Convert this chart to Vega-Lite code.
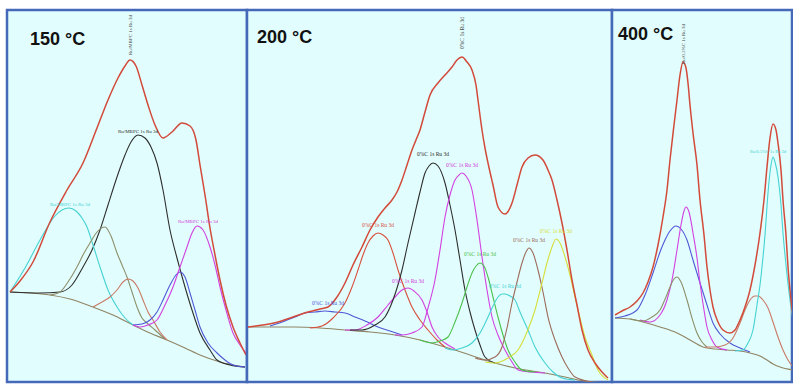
{
  "$schema": "https://vega.github.io/schema/vega-lite/v6.json",
  "background": "white",
  "padding": {"left": 5, "top": 8, "right": 0, "bottom": 0},
  "spacing": 0,
  "bounds": "flush",
  "config": {
    "view": {"fill": "#e2fdfd", "stroke": "#4469b8", "strokeWidth": 2.5},
    "concat": {"spacing": 0}
  },
  "datasets": {
    "p1": [
      {"s":"env","x":3,"y":90},{"s":"env","x":13,"y":101},{"s":"env","x":26,"y":120},{"s":"env","x":43,"y":160},{"s":"env","x":60,"y":192},{"s":"env","x":76,"y":219},{"s":"env","x":90,"y":254},{"s":"env","x":101,"y":282},{"s":"env","x":111,"y":304},{"s":"env","x":118,"y":316},{"s":"env","x":123,"y":322},{"s":"env","x":129,"y":316},{"s":"env","x":135,"y":297},{"s":"env","x":141,"y":277},{"s":"env","x":148,"y":257},{"s":"env","x":156,"y":244},{"s":"env","x":165,"y":250},{"s":"env","x":175,"y":259},{"s":"env","x":183,"y":256},{"s":"env","x":189,"y":242},{"s":"env","x":193,"y":217},{"s":"env","x":198,"y":187},{"s":"env","x":203,"y":154},{"s":"env","x":208,"y":127},{"s":"env","x":213,"y":102},{"s":"env","x":219,"y":77},{"s":"env","x":226,"y":55},{"s":"env","x":233,"y":39},{"s":"env","x":239,"y":27},
      {"s":"base","x":3,"y":90},{"s":"base","x":23,"y":89},{"s":"base","x":43,"y":87},{"s":"base","x":63,"y":83},{"s":"base","x":86,"y":75},{"s":"base","x":106,"y":67},{"s":"base","x":126,"y":57},{"s":"base","x":143,"y":49},{"s":"base","x":160,"y":42},{"s":"base","x":178,"y":34},{"s":"base","x":193,"y":27},{"s":"base","x":213,"y":20},{"s":"base","x":238,"y":15},
      {"s":"black","x":3,"y":90},{"s":"black","x":33,"y":89},{"s":"black","x":53,"y":90},{"s":"black","x":65,"y":97},{"s":"black","x":76,"y":115},{"s":"black","x":85,"y":132},{"s":"black","x":93,"y":152},{"s":"black","x":101,"y":177},{"s":"black","x":110,"y":205},{"s":"black","x":118,"y":227},{"s":"black","x":124,"y":240},{"s":"black","x":131,"y":247},{"s":"black","x":138,"y":244},{"s":"black","x":144,"y":235},{"s":"black","x":150,"y":219},{"s":"black","x":156,"y":192},{"s":"black","x":163,"y":152},{"s":"black","x":170,"y":124},{"s":"black","x":176,"y":102},{"s":"black","x":185,"y":72},{"s":"black","x":193,"y":49},{"s":"black","x":203,"y":32},{"s":"black","x":210,"y":22},{"s":"black","x":223,"y":17},{"s":"black","x":238,"y":15},
      {"s":"cyan","x":3,"y":90},{"s":"cyan","x":18,"y":114},{"s":"cyan","x":33,"y":142},{"s":"cyan","x":48,"y":166},{"s":"cyan","x":55,"y":172},{"s":"cyan","x":62,"y":174},{"s":"cyan","x":69,"y":171},{"s":"cyan","x":75,"y":164},{"s":"cyan","x":80,"y":155},{"s":"cyan","x":86,"y":137},{"s":"cyan","x":93,"y":115},{"s":"cyan","x":101,"y":92},{"s":"cyan","x":110,"y":75},{"s":"cyan","x":118,"y":64},{"s":"cyan","x":126,"y":57},
      {"s":"olive","x":43,"y":87},{"s":"olive","x":53,"y":90},{"s":"olive","x":61,"y":100},{"s":"olive","x":70,"y":115},{"s":"olive","x":77,"y":129},{"s":"olive","x":83,"y":139},{"s":"olive","x":90,"y":150},{"s":"olive","x":98,"y":155},{"s":"olive","x":104,"y":146},{"s":"olive","x":110,"y":129},{"s":"olive","x":115,"y":117},{"s":"olive","x":120,"y":105},{"s":"olive","x":125,"y":90},{"s":"olive","x":130,"y":75},{"s":"olive","x":135,"y":64},{"s":"olive","x":140,"y":59},{"s":"olive","x":148,"y":52},{"s":"olive","x":158,"y":43},
      {"s":"pink","x":86,"y":75},{"s":"pink","x":95,"y":80},{"s":"pink","x":103,"y":85},{"s":"pink","x":110,"y":92},{"s":"pink","x":116,"y":100},{"s":"pink","x":121,"y":103},{"s":"pink","x":126,"y":101},{"s":"pink","x":131,"y":94},{"s":"pink","x":136,"y":82},{"s":"pink","x":141,"y":70},{"s":"pink","x":146,"y":62},{"s":"pink","x":153,"y":50},{"s":"pink","x":160,"y":42},
      {"s":"blue","x":126,"y":57},{"s":"blue","x":135,"y":58},{"s":"blue","x":143,"y":62},{"s":"blue","x":150,"y":70},{"s":"blue","x":156,"y":82},{"s":"blue","x":163,"y":97},{"s":"blue","x":169,"y":107},{"s":"blue","x":173,"y":110},{"s":"blue","x":178,"y":105},{"s":"blue","x":183,"y":89},{"s":"blue","x":188,"y":72},{"s":"blue","x":193,"y":55},{"s":"blue","x":201,"y":39},{"s":"blue","x":210,"y":29},{"s":"blue","x":218,"y":22},{"s":"blue","x":226,"y":17},{"s":"blue","x":238,"y":15},
      {"s":"magenta","x":126,"y":57},{"s":"magenta","x":133,"y":55},{"s":"magenta","x":141,"y":57},{"s":"magenta","x":150,"y":62},{"s":"magenta","x":158,"y":77},{"s":"magenta","x":166,"y":95},{"s":"magenta","x":173,"y":115},{"s":"magenta","x":180,"y":135},{"s":"magenta","x":185,"y":149},{"s":"magenta","x":190,"y":156},{"s":"magenta","x":196,"y":152},{"s":"magenta","x":203,"y":135},{"s":"magenta","x":208,"y":117},{"s":"magenta","x":213,"y":95},{"s":"magenta","x":219,"y":72},{"s":"magenta","x":226,"y":49},{"s":"magenta","x":233,"y":37},{"s":"magenta","x":239,"y":29}
    ],
    "p1t": [
      {"k":"c","x":131,"y":251,"t":"Ru/MBPC 1s Ru 3d","s":"black"},
      {"k":"c","x":63,"y":178,"t":"Ru/MBPC 1s Ru 3d","s":"cyan"},
      {"k":"c","x":191,"y":161,"t":"Ru/MBPC 1s Ru 3d","s":"magenta"},
      {"k":"v","x":123,"y":347,"t":"Ru/MBPC 1s Ru 3d","s":"black"},
      {"k":"h","x":23,"y":337,"t":"150 °C","s":"title"}
    ],
    "p2": [
      {"s":"env","x":1,"y":55},{"s":"env","x":16,"y":57},{"s":"env","x":31,"y":60},{"s":"env","x":46,"y":65},{"s":"env","x":61,"y":70},{"s":"env","x":73,"y":73},{"s":"env","x":81,"y":75},{"s":"env","x":90,"y":85},{"s":"env","x":98,"y":99},{"s":"env","x":106,"y":117},{"s":"env","x":115,"y":135},{"s":"env","x":123,"y":152},{"s":"env","x":131,"y":165},{"s":"env","x":138,"y":174},{"s":"env","x":145,"y":182},{"s":"env","x":150,"y":190},{"s":"env","x":155,"y":202},{"s":"env","x":160,"y":217},{"s":"env","x":165,"y":232},{"s":"env","x":169,"y":242},{"s":"env","x":173,"y":252},{"s":"env","x":178,"y":270},{"s":"env","x":183,"y":287},{"s":"env","x":191,"y":299},{"s":"env","x":198,"y":307},{"s":"env","x":205,"y":315},{"s":"env","x":210,"y":322},{"s":"env","x":215,"y":325},{"s":"env","x":220,"y":320},{"s":"env","x":225,"y":312},{"s":"env","x":229,"y":297},{"s":"env","x":231,"y":282},{"s":"env","x":235,"y":252},{"s":"env","x":238,"y":234},{"s":"env","x":241,"y":219},{"s":"env","x":246,"y":197},{"s":"env","x":251,"y":175},{"s":"env","x":258,"y":168},{"s":"env","x":265,"y":179},{"s":"env","x":270,"y":197},{"s":"env","x":275,"y":215},{"s":"env","x":281,"y":224},{"s":"env","x":288,"y":227},{"s":"env","x":296,"y":222},{"s":"env","x":301,"y":212},{"s":"env","x":305,"y":202},{"s":"env","x":310,"y":182},{"s":"env","x":315,"y":159},{"s":"env","x":320,"y":132},{"s":"env","x":325,"y":102},{"s":"env","x":330,"y":77},{"s":"env","x":335,"y":52},{"s":"env","x":341,"y":32},{"s":"env","x":348,"y":19},{"s":"env","x":355,"y":10},{"s":"env","x":361,"y":4},
      {"s":"base","x":1,"y":55},{"s":"base","x":48,"y":55},{"s":"base","x":73,"y":54},{"s":"base","x":98,"y":52},{"s":"base","x":123,"y":50},{"s":"base","x":148,"y":47},{"s":"base","x":173,"y":42},{"s":"base","x":198,"y":35},{"s":"base","x":223,"y":27},{"s":"base","x":248,"y":19},{"s":"base","x":273,"y":13},{"s":"base","x":298,"y":9},{"s":"base","x":318,"y":5},{"s":"base","x":331,"y":2},{"s":"base","x":361,"y":-1},
      {"s":"blue","x":23,"y":56},{"s":"blue","x":38,"y":61},{"s":"blue","x":48,"y":65},{"s":"blue","x":58,"y":69},{"s":"blue","x":68,"y":70},{"s":"blue","x":78,"y":71},{"s":"blue","x":88,"y":70},{"s":"blue","x":98,"y":69},{"s":"blue","x":108,"y":65},{"s":"blue","x":118,"y":61},{"s":"blue","x":131,"y":55},{"s":"blue","x":143,"y":51},{"s":"blue","x":155,"y":47},
      {"s":"red","x":63,"y":54},{"s":"red","x":75,"y":56},{"s":"red","x":86,"y":64},{"s":"red","x":98,"y":79},{"s":"red","x":105,"y":95},{"s":"red","x":111,"y":112},{"s":"red","x":116,"y":127},{"s":"red","x":121,"y":139},{"s":"red","x":126,"y":146},{"s":"red","x":131,"y":149},{"s":"red","x":136,"y":147},{"s":"red","x":141,"y":142},{"s":"red","x":146,"y":129},{"s":"red","x":151,"y":112},{"s":"red","x":158,"y":92},{"s":"red","x":165,"y":75},{"s":"red","x":173,"y":62},{"s":"red","x":181,"y":52},{"s":"red","x":190,"y":42},{"s":"red","x":198,"y":35},
      {"s":"magenta","x":98,"y":52},{"s":"magenta","x":108,"y":52},{"s":"magenta","x":120,"y":57},{"s":"magenta","x":131,"y":65},{"s":"magenta","x":141,"y":77},{"s":"magenta","x":148,"y":85},{"s":"magenta","x":155,"y":92},{"s":"magenta","x":161,"y":94},{"s":"magenta","x":167,"y":91},{"s":"magenta","x":175,"y":82},{"s":"magenta","x":180,"y":70},{"s":"magenta","x":185,"y":55},{"s":"magenta","x":191,"y":45},{"s":"magenta","x":198,"y":39},{"s":"magenta","x":208,"y":33},
      {"s":"black","x":103,"y":52},{"s":"black","x":115,"y":52},{"s":"black","x":128,"y":57},{"s":"black","x":138,"y":65},{"s":"black","x":146,"y":82},{"s":"black","x":155,"y":112},{"s":"black","x":161,"y":139},{"s":"black","x":168,"y":169},{"s":"black","x":173,"y":190},{"s":"black","x":178,"y":209},{"s":"black","x":182,"y":216},{"s":"black","x":186,"y":219},{"s":"black","x":191,"y":216},{"s":"black","x":198,"y":199},{"s":"black","x":203,"y":177},{"s":"black","x":208,"y":152},{"s":"black","x":213,"y":122},{"s":"black","x":218,"y":92},{"s":"black","x":223,"y":70},{"s":"black","x":228,"y":52},{"s":"black","x":233,"y":37},{"s":"black","x":238,"y":25},{"s":"black","x":248,"y":19},
      {"s":"magenta2","x":148,"y":47},{"s":"magenta2","x":155,"y":47},{"s":"magenta2","x":165,"y":49},{"s":"magenta2","x":175,"y":55},{"s":"magenta2","x":181,"y":74},{"s":"magenta2","x":188,"y":102},{"s":"magenta2","x":193,"y":132},{"s":"magenta2","x":198,"y":165},{"s":"magenta2","x":203,"y":187},{"s":"magenta2","x":208,"y":202},{"s":"magenta2","x":212,"y":207},{"s":"magenta2","x":215,"y":209},{"s":"magenta2","x":219,"y":206},{"s":"magenta2","x":225,"y":192},{"s":"magenta2","x":230,"y":162},{"s":"magenta2","x":235,"y":125},{"s":"magenta2","x":240,"y":92},{"s":"magenta2","x":245,"y":65},{"s":"magenta2","x":251,"y":47},{"s":"magenta2","x":258,"y":32},{"s":"magenta2","x":265,"y":20},{"s":"magenta2","x":271,"y":12},{"s":"magenta2","x":283,"y":10},{"s":"magenta2","x":298,"y":9},
      {"s":"green","x":173,"y":42},{"s":"green","x":185,"y":39},{"s":"green","x":193,"y":41},{"s":"green","x":201,"y":45},{"s":"green","x":208,"y":60},{"s":"green","x":215,"y":79},{"s":"green","x":220,"y":95},{"s":"green","x":225,"y":109},{"s":"green","x":229,"y":116},{"s":"green","x":233,"y":119},{"s":"green","x":237,"y":116},{"s":"green","x":241,"y":105},{"s":"green","x":246,"y":85},{"s":"green","x":251,"y":65},{"s":"green","x":256,"y":47},{"s":"green","x":261,"y":32},{"s":"green","x":268,"y":20},{"s":"green","x":275,"y":12},{"s":"green","x":288,"y":10},
      {"s":"cyan","x":198,"y":34},{"s":"cyan","x":205,"y":32},{"s":"cyan","x":215,"y":34},{"s":"cyan","x":225,"y":39},{"s":"cyan","x":233,"y":49},{"s":"cyan","x":241,"y":65},{"s":"cyan","x":246,"y":76},{"s":"cyan","x":251,"y":85},{"s":"cyan","x":255,"y":88},{"s":"cyan","x":258,"y":88},{"s":"cyan","x":263,"y":86},{"s":"cyan","x":268,"y":82},{"s":"cyan","x":273,"y":70},{"s":"cyan","x":281,"y":52},{"s":"cyan","x":288,"y":35},{"s":"cyan","x":298,"y":19},{"s":"cyan","x":306,"y":10},{"s":"cyan","x":315,"y":4},{"s":"cyan","x":328,"y":2},
      {"s":"brown","x":228,"y":24},{"s":"brown","x":238,"y":22},{"s":"brown","x":248,"y":25},{"s":"brown","x":255,"y":35},{"s":"brown","x":260,"y":54},{"s":"brown","x":265,"y":79},{"s":"brown","x":270,"y":100},{"s":"brown","x":275,"y":119},{"s":"brown","x":279,"y":130},{"s":"brown","x":282,"y":134},{"s":"brown","x":286,"y":129},{"s":"brown","x":291,"y":112},{"s":"brown","x":296,"y":90},{"s":"brown","x":301,"y":65},{"s":"brown","x":308,"y":42},{"s":"brown","x":315,"y":25},{"s":"brown","x":321,"y":14},{"s":"brown","x":328,"y":5},{"s":"brown","x":345,"y":0},
      {"s":"yellow","x":238,"y":20},{"s":"yellow","x":248,"y":19},{"s":"yellow","x":261,"y":24},{"s":"yellow","x":271,"y":32},{"s":"yellow","x":280,"y":50},{"s":"yellow","x":288,"y":72},{"s":"yellow","x":294,"y":95},{"s":"yellow","x":300,"y":119},{"s":"yellow","x":305,"y":135},{"s":"yellow","x":309,"y":143},{"s":"yellow","x":313,"y":139},{"s":"yellow","x":318,"y":125},{"s":"yellow","x":323,"y":107},{"s":"yellow","x":328,"y":85},{"s":"yellow","x":333,"y":64},{"s":"yellow","x":338,"y":45},{"s":"yellow","x":345,"y":27},{"s":"yellow","x":351,"y":12},{"s":"yellow","x":361,"y":2}
    ],
    "p2t": [
      {"k":"c","x":81,"y":79,"t":"0%C 1s Ru 3d","s":"blue"},
      {"k":"c","x":131,"y":157,"t":"0%C 1s Ru 3d","s":"red"},
      {"k":"c","x":161,"y":101,"t":"0%C 1s Ru 3d","s":"magenta"},
      {"k":"c","x":186,"y":228,"t":"0%C 1s Ru 3d","s":"black"},
      {"k":"c","x":215,"y":217,"t":"0%C 1s Ru 3d","s":"magenta2"},
      {"k":"c","x":233,"y":128,"t":"0%C 1s Ru 3d","s":"green"},
      {"k":"c","x":258,"y":96,"t":"0%C 1s Ru 3d","s":"cyan"},
      {"k":"c","x":282,"y":142,"t":"0%C 1s Ru 3d","s":"brown"},
      {"k":"c","x":309,"y":151,"t":"0%C 1s Ru 3d","s":"yellow"},
      {"k":"v","x":215,"y":349,"t":"0%C 1s Ru 3d","s":"black"},
      {"k":"h","x":10,"y":339,"t":"200 °C","s":"title"}
    ],
    "p3": [
      {"s":"env","x":3,"y":67},{"s":"env","x":10,"y":71},{"s":"env","x":18,"y":75},{"s":"env","x":25,"y":81},{"s":"env","x":31,"y":89},{"s":"env","x":36,"y":100},{"s":"env","x":41,"y":115},{"s":"env","x":46,"y":137},{"s":"env","x":51,"y":165},{"s":"env","x":55,"y":192},{"s":"env","x":58,"y":222},{"s":"env","x":62,"y":257},{"s":"env","x":65,"y":282},{"s":"env","x":68,"y":307},{"s":"env","x":71,"y":320},{"s":"env","x":74,"y":314},{"s":"env","x":76,"y":299},{"s":"env","x":78,"y":277},{"s":"env","x":81,"y":249},{"s":"env","x":85,"y":217},{"s":"env","x":88,"y":182},{"s":"env","x":92,"y":147},{"s":"env","x":95,"y":115},{"s":"env","x":98,"y":92},{"s":"env","x":101,"y":75},{"s":"env","x":106,"y":60},{"s":"env","x":111,"y":52},{"s":"env","x":118,"y":49},{"s":"env","x":123,"y":52},{"s":"env","x":128,"y":62},{"s":"env","x":133,"y":75},{"s":"env","x":138,"y":92},{"s":"env","x":143,"y":117},{"s":"env","x":148,"y":149},{"s":"env","x":152,"y":182},{"s":"env","x":155,"y":215},{"s":"env","x":158,"y":244},{"s":"env","x":161,"y":258},{"s":"env","x":164,"y":252},{"s":"env","x":166,"y":239},{"s":"env","x":169,"y":212},{"s":"env","x":171,"y":182},{"s":"env","x":174,"y":147},{"s":"env","x":176,"y":115},{"s":"env","x":179,"y":82},{"s":"env","x":181,"y":65},
      {"s":"base","x":3,"y":64},{"s":"base","x":18,"y":63},{"s":"base","x":31,"y":60},{"s":"base","x":48,"y":55},{"s":"base","x":65,"y":49},{"s":"base","x":78,"y":42},{"s":"base","x":91,"y":35},{"s":"base","x":103,"y":33},{"s":"base","x":115,"y":32},{"s":"base","x":128,"y":31},{"s":"base","x":138,"y":29},{"s":"base","x":148,"y":26},{"s":"base","x":155,"y":22},{"s":"base","x":161,"y":18},{"s":"base","x":168,"y":15},{"s":"base","x":181,"y":12},
      {"s":"blue","x":3,"y":64},{"s":"blue","x":13,"y":66},{"s":"blue","x":25,"y":72},{"s":"blue","x":33,"y":87},{"s":"blue","x":41,"y":109},{"s":"blue","x":48,"y":130},{"s":"blue","x":53,"y":142},{"s":"blue","x":58,"y":151},{"s":"blue","x":64,"y":156},{"s":"blue","x":69,"y":153},{"s":"blue","x":75,"y":142},{"s":"blue","x":81,"y":122},{"s":"blue","x":88,"y":99},{"s":"blue","x":95,"y":77},{"s":"blue","x":101,"y":59},{"s":"blue","x":108,"y":48},{"s":"blue","x":118,"y":39},{"s":"blue","x":128,"y":34},{"s":"blue","x":138,"y":30},
      {"s":"magenta","x":28,"y":62},{"s":"magenta","x":38,"y":60},{"s":"magenta","x":48,"y":67},{"s":"magenta","x":55,"y":82},{"s":"magenta","x":60,"y":102},{"s":"magenta","x":65,"y":132},{"s":"magenta","x":69,"y":157},{"s":"magenta","x":72,"y":171},{"s":"magenta","x":74,"y":175},{"s":"magenta","x":77,"y":170},{"s":"magenta","x":81,"y":149},{"s":"magenta","x":85,"y":124},{"s":"magenta","x":88,"y":99},{"s":"magenta","x":92,"y":72},{"s":"magenta","x":95,"y":55},{"s":"magenta","x":100,"y":42},{"s":"magenta","x":105,"y":35},{"s":"magenta","x":115,"y":32},
      {"s":"olive","x":18,"y":63},{"s":"olive","x":31,"y":61},{"s":"olive","x":40,"y":65},{"s":"olive","x":48,"y":72},{"s":"olive","x":54,"y":85},{"s":"olive","x":58,"y":95},{"s":"olive","x":62,"y":103},{"s":"olive","x":65,"y":105},{"s":"olive","x":69,"y":100},{"s":"olive","x":75,"y":82},{"s":"olive","x":80,"y":64},{"s":"olive","x":85,"y":49},{"s":"olive","x":90,"y":40},{"s":"olive","x":95,"y":35},
      {"s":"pink","x":93,"y":35},{"s":"pink","x":103,"y":35},{"s":"pink","x":113,"y":37},{"s":"pink","x":121,"y":44},{"s":"pink","x":128,"y":59},{"s":"pink","x":133,"y":72},{"s":"pink","x":138,"y":82},{"s":"pink","x":143,"y":86},{"s":"pink","x":146,"y":86},{"s":"pink","x":151,"y":82},{"s":"pink","x":156,"y":74},{"s":"pink","x":161,"y":60},{"s":"pink","x":166,"y":45},{"s":"pink","x":171,"y":32},{"s":"pink","x":176,"y":22},{"s":"pink","x":181,"y":15},
      {"s":"cyan","x":123,"y":31},{"s":"cyan","x":131,"y":32},{"s":"cyan","x":136,"y":39},{"s":"cyan","x":141,"y":52},{"s":"cyan","x":145,"y":77},{"s":"cyan","x":148,"y":97},{"s":"cyan","x":150,"y":115},{"s":"cyan","x":153,"y":147},{"s":"cyan","x":156,"y":189},{"s":"cyan","x":159,"y":217},{"s":"cyan","x":161,"y":225},{"s":"cyan","x":163,"y":220},{"s":"cyan","x":166,"y":205},{"s":"cyan","x":169,"y":177},{"s":"cyan","x":171,"y":149},{"s":"cyan","x":174,"y":117},{"s":"cyan","x":178,"y":82},{"s":"cyan","x":181,"y":62}
    ],
    "p3t": [
      {"k":"l","x":138,"y":230,"t":"Ru/0.5%C 1s Ru 3d","s":"cyan"},
      {"k":"v","x":71,"y":338,"t":"Ru/0.5%C 1s Ru 3d","s":"black"},
      {"k":"h","x":6,"y":342,"t":"400 °C","s":"title"}
    ]
  },
  "hconcat": [
    {
      "width": 240,
      "height": 372,
      "layer": [
        {
          "data": {"name": "p1"},
          "transform": [{"filter": "datum.s !== 'env'"}],
          "mark": {"type": "line", "interpolate": "monotone", "strokeWidth": 1.1, "clip": true},
          "encoding": {
            "x": {"field": "x", "type": "quantitative", "scale": {"domain": [0, 240], "nice": false, "zero": false}, "axis": null},
            "y": {"field": "y", "type": "quantitative", "scale": {"domain": [0, 372], "nice": false, "zero": false}, "axis": null},
            "color": {"field": "s", "type": "nominal", "legend": null, "scale": {"domain": ["env","base","black","cyan","olive","pink","blue","magenta","magenta2","green","yellow","brown","red","title"], "range": ["#d24a3a","#8f8464","#2e2e2e","#45d2d2","#8c8f6a","#c97a66","#5058d6","#d240e0","#d240e0","#4cc04c","#d5df3a","#9c6b5b","#d8503e","#000000"]}}
          }
        },
        {
          "data": {"name": "p1"},
          "transform": [{"filter": "datum.s === 'env'"}],
          "mark": {"type": "line", "interpolate": "monotone", "strokeWidth": 1.5, "clip": true, "color": "#d24a3a"},
          "encoding": {
            "x": {"field": "x", "type": "quantitative", "scale": {"domain": [0, 240], "nice": false, "zero": false}, "axis": null},
            "y": {"field": "y", "type": "quantitative", "scale": {"domain": [0, 372], "nice": false, "zero": false}, "axis": null}
          }
        },
        {
          "data": {"name": "p1t"},
          "transform": [{"filter": "datum.k === 'c'"}],
          "mark": {"type": "text", "font": "Liberation Serif", "fontSize": 5, "baseline": "middle", "align": "center"},
          "encoding": {
            "x": {"field": "x", "type": "quantitative"},
            "y": {"field": "y", "type": "quantitative"},
            "text": {"field": "t"},
            "color": {"field": "s", "type": "nominal", "legend": null}
          }
        },
        {
          "data": {"name": "p1t"},
          "transform": [{"filter": "datum.k === 'v'"}],
          "mark": {"type": "text", "font": "Liberation Serif", "fontSize": 5, "angle": 270, "baseline": "middle", "align": "center", "color": "#444444"},
          "encoding": {
            "x": {"field": "x", "type": "quantitative"},
            "y": {"field": "y", "type": "quantitative"},
            "text": {"field": "t"}
          }
        },
        {
          "data": {"name": "p1t"},
          "transform": [{"filter": "datum.k === 'h'"}],
          "mark": {"type": "text", "font": "Liberation Sans", "fontWeight": "bold", "fontSize": 18, "baseline": "alphabetic", "align": "left", "color": "#111111"},
          "encoding": {
            "x": {"field": "x", "type": "quantitative"},
            "y": {"field": "y", "type": "quantitative"},
            "text": {"field": "t"}
          }
        }
      ]
    },
    {
      "width": 365,
      "height": 372,
      "layer": [
        {
          "data": {"name": "p2"},
          "transform": [{"filter": "datum.s !== 'env'"}],
          "mark": {"type": "line", "interpolate": "monotone", "strokeWidth": 1.1, "clip": true},
          "encoding": {
            "x": {"field": "x", "type": "quantitative", "scale": {"domain": [0, 365], "nice": false, "zero": false}, "axis": null},
            "y": {"field": "y", "type": "quantitative", "scale": {"domain": [0, 372], "nice": false, "zero": false}, "axis": null},
            "color": {"field": "s", "type": "nominal", "legend": null}
          }
        },
        {
          "data": {"name": "p2"},
          "transform": [{"filter": "datum.s === 'env'"}],
          "mark": {"type": "line", "interpolate": "monotone", "strokeWidth": 1.5, "clip": true, "color": "#d24a3a"},
          "encoding": {
            "x": {"field": "x", "type": "quantitative", "scale": {"domain": [0, 365], "nice": false, "zero": false}, "axis": null},
            "y": {"field": "y", "type": "quantitative", "scale": {"domain": [0, 372], "nice": false, "zero": false}, "axis": null}
          }
        },
        {
          "data": {"name": "p2t"},
          "transform": [{"filter": "datum.k === 'c'"}],
          "mark": {"type": "text", "font": "Liberation Serif", "fontSize": 5.5, "baseline": "middle", "align": "center"},
          "encoding": {
            "x": {"field": "x", "type": "quantitative"},
            "y": {"field": "y", "type": "quantitative"},
            "text": {"field": "t"},
            "color": {"field": "s", "type": "nominal", "legend": null}
          }
        },
        {
          "data": {"name": "p2t"},
          "transform": [{"filter": "datum.k === 'v'"}],
          "mark": {"type": "text", "font": "Liberation Serif", "fontSize": 5.5, "angle": 270, "baseline": "middle", "align": "center", "color": "#444444"},
          "encoding": {
            "x": {"field": "x", "type": "quantitative"},
            "y": {"field": "y", "type": "quantitative"},
            "text": {"field": "t"}
          }
        },
        {
          "data": {"name": "p2t"},
          "transform": [{"filter": "datum.k === 'h'"}],
          "mark": {"type": "text", "font": "Liberation Sans", "fontWeight": "bold", "fontSize": 18, "baseline": "alphabetic", "align": "left", "color": "#111111"},
          "encoding": {
            "x": {"field": "x", "type": "quantitative"},
            "y": {"field": "y", "type": "quantitative"},
            "text": {"field": "t"}
          }
        }
      ]
    },
    {
      "width": 180,
      "height": 372,
      "layer": [
        {
          "data": {"name": "p3"},
          "transform": [{"filter": "datum.s !== 'env'"}],
          "mark": {"type": "line", "interpolate": "monotone", "strokeWidth": 1.1, "clip": true},
          "encoding": {
            "x": {"field": "x", "type": "quantitative", "scale": {"domain": [0, 180], "nice": false, "zero": false}, "axis": null},
            "y": {"field": "y", "type": "quantitative", "scale": {"domain": [0, 372], "nice": false, "zero": false}, "axis": null},
            "color": {"field": "s", "type": "nominal", "legend": null}
          }
        },
        {
          "data": {"name": "p3"},
          "transform": [{"filter": "datum.s === 'env'"}],
          "mark": {"type": "line", "interpolate": "monotone", "strokeWidth": 1.5, "clip": true, "color": "#d24a3a"},
          "encoding": {
            "x": {"field": "x", "type": "quantitative", "scale": {"domain": [0, 180], "nice": false, "zero": false}, "axis": null},
            "y": {"field": "y", "type": "quantitative", "scale": {"domain": [0, 372], "nice": false, "zero": false}, "axis": null}
          }
        },
        {
          "data": {"name": "p3t"},
          "transform": [{"filter": "datum.k === 'l'"}],
          "mark": {"type": "text", "font": "Liberation Serif", "fontSize": 4.5, "baseline": "middle", "align": "left"},
          "encoding": {
            "x": {"field": "x", "type": "quantitative"},
            "y": {"field": "y", "type": "quantitative"},
            "text": {"field": "t"},
            "color": {"field": "s", "type": "nominal", "legend": null}
          }
        },
        {
          "data": {"name": "p3t"},
          "transform": [{"filter": "datum.k === 'v'"}],
          "mark": {"type": "text", "font": "Liberation Serif", "fontSize": 5, "angle": 270, "baseline": "middle", "align": "center", "color": "#444444"},
          "encoding": {
            "x": {"field": "x", "type": "quantitative"},
            "y": {"field": "y", "type": "quantitative"},
            "text": {"field": "t"}
          }
        },
        {
          "data": {"name": "p3t"},
          "transform": [{"filter": "datum.k === 'h'"}],
          "mark": {"type": "text", "font": "Liberation Sans", "fontWeight": "bold", "fontSize": 18, "baseline": "alphabetic", "align": "left", "color": "#111111"},
          "encoding": {
            "x": {"field": "x", "type": "quantitative"},
            "y": {"field": "y", "type": "quantitative"},
            "text": {"field": "t"}
          }
        }
      ]
    }
  ]
}
